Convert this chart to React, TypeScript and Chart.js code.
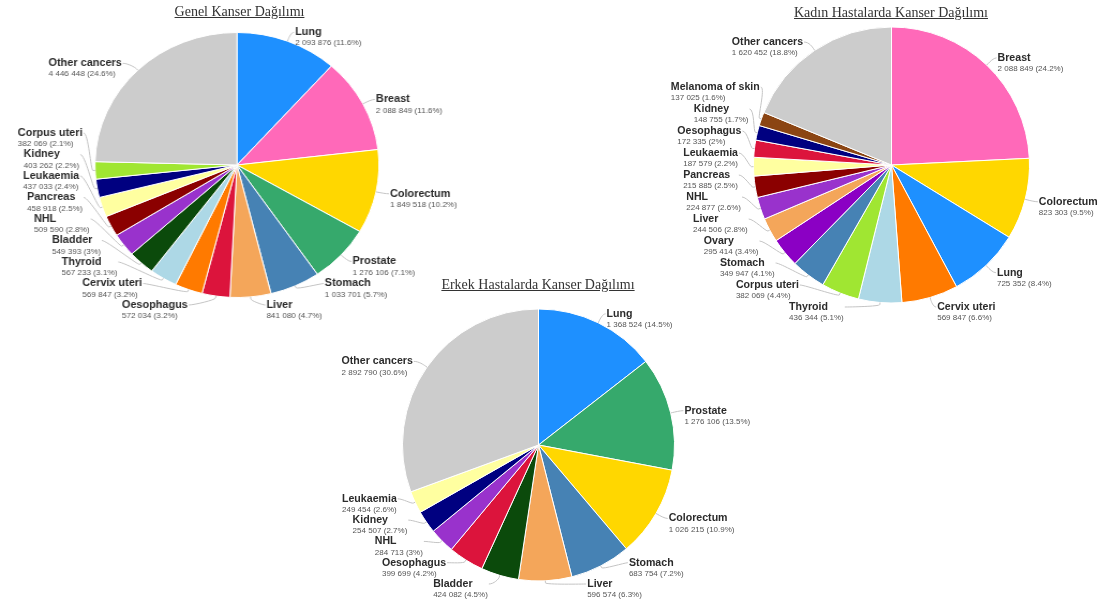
import React, { useEffect, useRef } from "react";
import { Chart, registerables } from "chart.js";

Chart.register(...registerables);

const PAGE_W = 1108;
const PAGE_H = 608;

// ---- Data ----
const genelTitle = "Genel Kanser Dağılımı";
const genelLabels = [
  "Lung", "Breast", "Colorectum", "Prostate", "Stomach", "Liver", "Oesophagus",
  "Cervix uteri", "Thyroid", "Bladder", "NHL", "Pancreas", "Leukaemia", "Kidney",
  "Corpus uteri", "Other cancers",
];
const genelValues = [
  2093876, 2088849, 1849518, 1276106, 1033701, 841080, 572034,
  569847, 567233, 549393, 509590, 458918, 437033, 403262,
  382069, 4446448,
];

const erkekTitle = "Erkek Hastalarda Kanser Dağılımı";
const erkekLabels = [
  "Lung", "Prostate", "Colorectum", "Stomach", "Liver", "Bladder", "Oesophagus",
  "NHL", "Kidney", "Leukaemia", "Other cancers",
];
const erkekValues = [
  1368524, 1276106, 1026215, 683754, 596574, 424082, 399699,
  284713, 254507, 249454, 2892790,
];

const kadinTitle = "Kadın Hastalarda Kanser Dağılımı";
const kadinLabels = [
  "Breast", "Colorectum", "Lung", "Cervix uteri", "Thyroid", "Corpus uteri", "Stomach",
  "Ovary", "Liver", "NHL", "Pancreas", "Leukaemia", "Oesophagus", "Kidney",
  "Melanoma of skin", "Other cancers",
];
const kadinValues = [
  2088849, 823303, 725352, 569847, 436344, 382069, 349947,
  295414, 244506, 224877, 215885, 187579, 172335, 148755,
  137025, 1620452,
];

const siteColors: Record<string, string> = {
  "Lung": "#1e90ff",
  "Breast": "#ff69b9",
  "Colorectum": "#ffd700",
  "Prostate": "#36a96c",
  "Stomach": "#4682b4",
  "Liver": "#f4a65a",
  "Oesophagus": "#dc143c",
  "Cervix uteri": "#ff7a00",
  "Thyroid": "#add8e6",
  "Bladder": "#0b4a0b",
  "NHL": "#9932cc",
  "Pancreas": "#8b0000",
  "Leukaemia": "#ffffa0",
  "Kidney": "#000080",
  "Corpus uteri": "#a0e632",
  "Ovary": "#8b00c4",
  "Melanoma of skin": "#8b4513",
  "Other cancers": "#cccccc",
};

// ---- Layout settings (page px) ----
type PieCfg = {
  key: string;
  title: string;
  labels: string[];
  values: number[];
  cx: number; cy: number; r: number; sx: number;
  titleX: number; titleY: number;
  distance: number; spacing: number; maxY: number;
  nameSize: number; valueSize: number;
  ryExtraLeft: number; ryExtraRight: number;
};

const charts: PieCfg[] = [
  {
    key: "genel", title: genelTitle, labels: genelLabels, values: genelValues,
    cx: 237, cy: 165, r: 132.5, sx: 1.0717, titleX: 239.5, titleY: 12,
    distance: 9.5, spacing: 21.5, maxY: 305, nameSize: 10.9, valueSize: 8.15,
    ryExtraLeft: 4, ryExtraRight: 0,
  },
  {
    key: "erkek", title: erkekTitle, labels: erkekLabels, values: erkekValues,
    cx: 538.5, cy: 445, r: 136, sx: 1, titleX: 538, titleY: 285,
    distance: 10, spacing: 21.3, maxY: 584, nameSize: 10.6, valueSize: 8,
    ryExtraLeft: 0, ryExtraRight: 0,
  },
  {
    key: "kadin", title: kadinTitle, labels: kadinLabels, values: kadinValues,
    cx: 891.5, cy: 165, r: 138, sx: 1, titleX: 891, titleY: 12.7,
    distance: 10, spacing: 22, maxY: 307, nameSize: 10.6, valueSize: 8,
    ryExtraLeft: 0, ryExtraRight: 0,
  },
];

function fmtNum(v: number): string {
  return String(v).replace(/\B(?=(\d{3})+(?!\d))/g, " ");
}
function fmtPct(p: number): string {
  return String(Math.round(p * 10) / 10);
}

function distribute(targets: number[], gap: number, lo: number, hi: number): number[] {
  type G = { n: number; sum: number; pos: number };
  const place = (g: G) => {
    let p = g.sum / g.n - ((g.n - 1) * gap) / 2;
    p = Math.min(hi - (g.n - 1) * gap, p);
    p = Math.max(lo, p);
    g.pos = p;
  };
  const groups: G[] = targets.map((t) => ({ n: 1, sum: t, pos: t }));
  groups.forEach(place);
  let changed = true;
  let guard = 0;
  while (changed && guard < 500) {
    guard++;
    changed = false;
    for (let k = 0; k < groups.length - 1; k++) {
      const a = groups[k];
      const b = groups[k + 1];
      if (a.pos + a.n * gap > b.pos + 1e-6) {
        const m: G = { n: a.n + b.n, sum: a.sum + b.sum, pos: 0 };
        place(m);
        groups.splice(k, 2, m);
        changed = true;
        break;
      }
    }
  }
  const out: number[] = [];
  groups.forEach((g) => {
    for (let j = 0; j < g.n; j++) out.push(g.pos + j * gap);
  });
  return out;
}

const pieLabelPlugin = {
  id: "pieLabels",
  afterDatasetsDraw(chart: any, _args: any, opts: any) {
    const ctx: CanvasRenderingContext2D = chart.ctx;
    const meta = chart.getDatasetMeta(0);
    const data = chart.data.datasets[0].data as number[];
    const names = chart.data.labels as string[];
    const total = data.reduce((a, b) => a + b, 0);
    const sx: number = opts.sx || 1;

    const items = meta.data.map((arc: any, i: number) => {
      const p = arc.getProps(["x", "y", "startAngle", "endAngle", "outerRadius"], true);
      const mid = (p.startAngle + p.endAngle) / 2;
      const R = p.outerRadius + opts.distance;
      return {
        i, mid, cx: p.x, cy: p.y, r: p.outerRadius, R,
        right: Math.cos(mid) >= 0,
        target: p.y + Math.sin(mid) * R,
        y: 0,
      };
    });

    const nameFont = `bold ${opts.nameSize / sx}px "Liberation Sans", Arial, sans-serif`;
    const valueFont = `${opts.valueSize / sx}px "Liberation Sans", Arial, sans-serif`;
    const lineH = 11;

    [true, false].forEach((side) => {
      const group = items.filter((it: any) => it.right === side).sort((a: any, b: any) => a.target - b.target);
      if (!group.length) return;
      const lo = group[0].cy - group[0].R - 8;
      const ys = distribute(group.map((g: any) => g.target), opts.spacing, lo, opts.maxY);
      group.forEach((g: any, k: number) => (g.y = ys[k]));
    });

    ctx.save();
    items.forEach((it: any) => {
      const Ry = it.R + (it.right ? opts.ryExtraRight : opts.ryExtraLeft);
      const dy = Math.max(-1, Math.min(1, (it.y - it.cy) / Ry));
      const off = Math.sqrt(1 - dy * dy) * it.R;
      const xc = it.right ? it.cx + off : it.cx - off;
      const gapR = 4 / sx;
      const gapL = 6 / sx;

      // connector
      const ex = it.cx + Math.cos(it.mid) * it.r;
      const ey = it.cy + Math.sin(it.mid) * it.r;
      const bx = it.cx + Math.cos(it.mid) * (it.r + 2);
      const by = it.cy + Math.sin(it.mid) * (it.r + 2);
      ctx.beginPath();
      ctx.moveTo(it.right ? xc + gapR - 1 : xc - gapL + 1, it.y);
      ctx.bezierCurveTo(xc, it.y, 2 * bx - ex, 2 * by - ey, bx, by);
      ctx.lineTo(ex, ey);
      ctx.strokeStyle = "#c4c4c4";
      ctx.lineWidth = 1;
      ctx.stroke();

      // text
      const name = names[it.i];
      const v = data[it.i];
      const valueText = `${fmtNum(v)} (${fmtPct((v / total) * 100)}%)`;
      ctx.font = nameFont;
      const wName = ctx.measureText(name).width;
      ctx.font = valueFont;
      const wVal = ctx.measureText(valueText).width;
      const w = Math.max(wName, wVal);
      const tx = it.right ? xc + gapR : xc - gapL - w;
      ctx.textAlign = "left";
      ctx.textBaseline = "middle";
      ctx.font = nameFont;
      ctx.fillStyle = "#2b2b2b";
      ctx.fillText(name, tx, it.y);
      ctx.font = valueFont;
      ctx.fillStyle = "#555555";
      ctx.fillText(valueText, tx, it.y + lineH);
    });
    ctx.restore();
  },
};

function PieCanvas({ cfg }: { cfg: PieCfg }) {
  const ref = useRef<HTMLCanvasElement>(null);
  const cw = Math.round(PAGE_W / cfg.sx);
  useEffect(() => {
    const canvas = ref.current;
    if (!canvas) return;
    const cxc = cfg.cx / cfg.sx;
    const chart = new Chart(canvas, {
      type: "pie",
      data: {
        labels: cfg.labels,
        datasets: [
          {
            data: cfg.values,
            backgroundColor: cfg.labels.map((l) => siteColors[l]),
            borderColor: "#ffffff",
            borderWidth: 1,
            radius: cfg.r,
          } as any,
        ],
      },
      options: {
        responsive: false,
        maintainAspectRatio: false,
        animation: false,
        devicePixelRatio: 1,
        events: [],
        layout: {
          padding: {
            left: cxc - cfg.r - 1,
            right: cw - cxc - cfg.r - 1,
            top: cfg.cy - cfg.r - 1,
            bottom: PAGE_H - cfg.cy - cfg.r - 1,
          },
        },
        plugins: {
          legend: { display: false },
          tooltip: { enabled: false },
          title: { display: false },
          pieLabels: {
            sx: cfg.sx,
            distance: cfg.distance,
            spacing: cfg.spacing,
            maxY: cfg.maxY,
            nameSize: cfg.nameSize,
            valueSize: cfg.valueSize,
            ryExtraLeft: cfg.ryExtraLeft,
            ryExtraRight: cfg.ryExtraRight,
          },
        } as any,
      },
      plugins: [pieLabelPlugin as any],
    });
    return () => chart.destroy();
  }, []);
  return (
    <canvas
      ref={ref}
      width={cw}
      height={PAGE_H}
      style={{ position: "absolute", left: 0, top: 0, width: PAGE_W, height: PAGE_H }}
    />
  );
}

export default function App() {
  return (
    <div
      style={{
        position: "absolute",
        left: 0,
        top: 0,
        width: PAGE_W,
        height: PAGE_H,
        background: "#ffffff",
        overflow: "hidden",
      }}
    >
      {charts.map((c) => (
        <PieCanvas key={c.key} cfg={c} />
      ))}
      {charts.map((c) => (
        <div
          key={c.key + "-title"}
          style={{
            position: "absolute",
            left: c.titleX - 200,
            top: c.titleY - 9,
            width: 400,
            textAlign: "center",
            fontFamily: '"Liberation Serif", "Times New Roman", serif',
            fontSize: 14,
            lineHeight: "18px",
            color: "#333333",
            textDecoration: "underline",
            whiteSpace: "nowrap",
          }}
        >
          {c.title}
        </div>
      ))}
    </div>
  );
}
